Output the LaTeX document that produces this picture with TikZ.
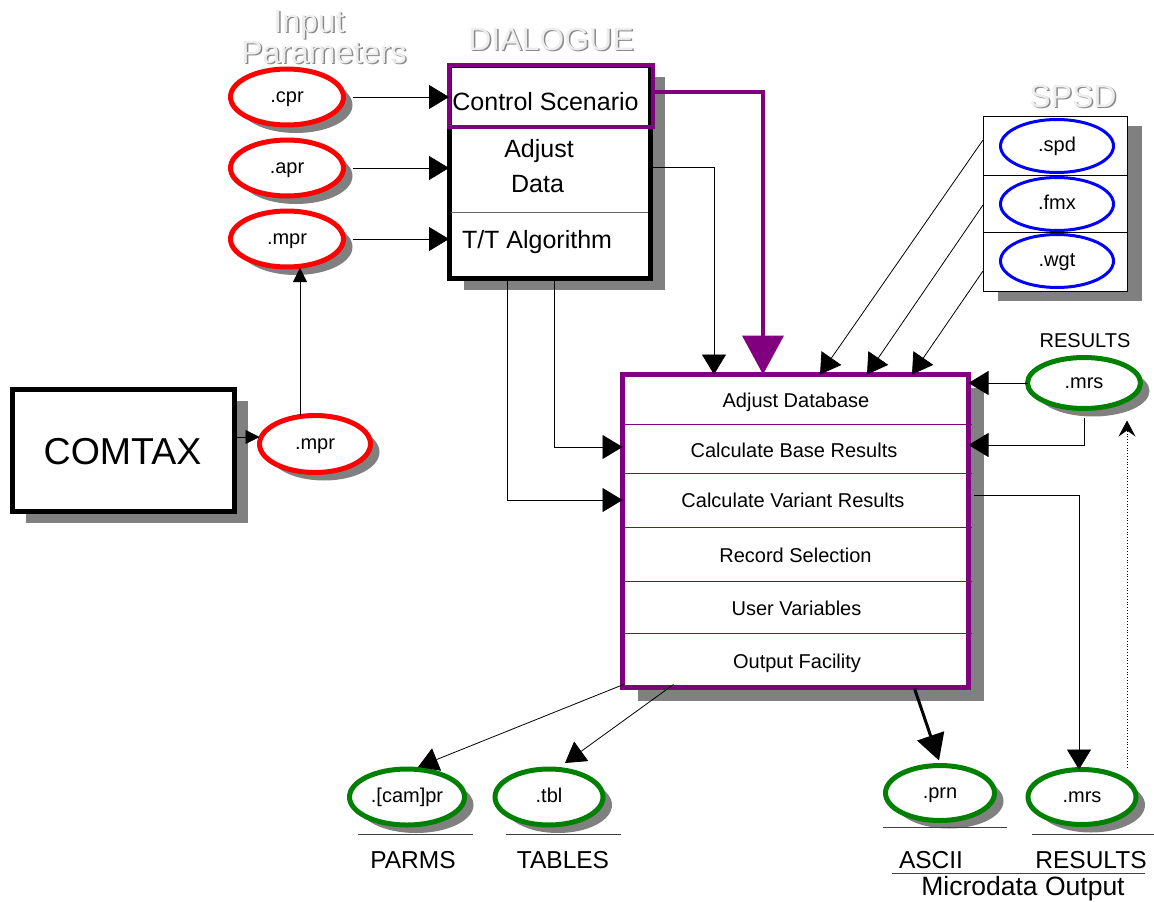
\documentclass[tikz,border=0pt]{standalone}
\usepackage{fontspec}
\setmainfont{Liberation Sans}
\usetikzlibrary{arrows.meta,shadows,shapes.geometric,calc}
\definecolor{pur}{HTML}{800080}
\definecolor{grn}{HTML}{008000}
\definecolor{shd}{HTML}{808080}
\definecolor{redc}{HTML}{FF0000}
\definecolor{blu}{HTML}{0000FF}
\definecolor{ttlfill}{HTML}{EDEDED}
\definecolor{ttlshade}{HTML}{8A8A8A}
\begin{document}
\begin{tikzpicture}[x=1pt,y=-1pt,
  every node/.style={inner sep=0pt,outer sep=0pt},
  fa/.style={font=\fontsize{20}{24}\selectfont},
  fb/.style={font=\fontsize{25}{33}\selectfont},
  fc/.style={font=\fontsize{24.5}{28}\selectfont},
  ftl/.style={font=\fontsize{32}{36}\selectfont},
  ttlsh/.style={ftl,text=ttlshade,anchor=base},
  ttlfg/.style={ftl,text=ttlfill,anchor=base},
  oval/.style={ellipse,fill=white,fa,text height=10.4pt,text depth=0pt},
  shov/.style={oval,line width=5pt,drop shadow={shadow xshift=9pt,shadow yshift=-8pt,fill=shd,opacity=1}},
  redov/.style={shov,draw=redc,minimum width=113pt,minimum height=56pt},
  grnov/.style={shov,draw=grn},
  bluov/.style={oval,draw=blu,line width=3pt,minimum width=113pt,minimum height=53pt},
  arr/.style={draw=black,line width=0.8pt,-{Triangle[length=20pt,width=24pt]}},
  arrs/.style={draw=black,line width=0.8pt,-{Triangle[length=14pt,width=14pt]}},
  parr/.style={draw=pur,line width=4pt,-{Triangle[length=39pt,width=41pt]}},
  thk/.style={draw=black,line width=3pt,-{Triangle[length=26pt,width=28pt]}},
  dotarr/.style={draw=black,line width=0.8pt,dotted,-{Stealth[length=16pt,width=17pt,inset=6pt]}},
  rule/.style={draw=black!80,line width=0.8pt},
  prule/.style={draw=pur,line width=0.8pt},
  lbl/.style={fc,anchor=base}
]
\fill[white] (0,0) rectangle (1154,902);
\useasboundingbox (0,0) rectangle (1154,902);

% ---- titles ----
\node[ttlsh] (inS) at (310.5,33.5) {Input};
\node[ttlfg] (in) at (309,32) {Input};
\node[ttlsh] (parS) at (325.5,64.5) {Parameters};
\node[ttlfg] (par) at (324,63) {Parameters};
\node[ttlsh] (dlS) at (552.5,51.5) {DIALOGUE};
\node[ttlfg] (dl) at (551,50) {DIALOGUE};
\node[ttlsh] (spS) at (1074.5,108.5) {SPSD};
\node[ttlfg] (sp) at (1073,107) {SPSD};

% ---- input ellipses ----
\node[redov] (cpr) at (287,97) {.cpr};
\node[redov] (apr) at (287,168) {.apr};
\node[redov] (mpr) at (287,239) {.mpr};
\node[redov,minimum width=111pt,minimum height=57pt] (mpr2) at (315,444) {.mpr};

% ---- DIALOGUE box ----
\node[draw=black,fill=white,line width=5pt,minimum width=201pt,minimum height=213pt,
  drop shadow={shadow xshift=15pt,shadow yshift=-12pt,fill=shd,opacity=1}] (dlg) at (549.5,171.5) {};
\draw[rule,draw=black!60] (451,212) -- (648,212);
\node[draw=pur,line width=4pt,minimum width=204pt,minimum height=62pt] (cs) at (551,96) {};
\node[fb,anchor=base] (cst) at (545.5,110) {Control Scenario};
\node[fb,anchor=base] (adj1) at (539,157) {Adjust};
\node[fb,anchor=base] (adj2) at (537.5,192) {Data};
\node[fb,anchor=base west] (tt) at (462,248) {T/T Algorithm};

% ---- COMTAX ----
\node[draw=black,fill=white,line width=5pt,minimum width=222pt,minimum height=122pt,
  drop shadow={shadow xshift=13pt,shadow yshift=-11pt,fill=shd,opacity=1}] (cmt) at (123.5,450.5) {};
\node[font=\fontsize{37.5}{40}\selectfont,anchor=base] (cmtt) at (122.5,464) {COMTAX};

% ---- SPSD box ----
\node[draw=black,fill=white,line width=1pt,minimum width=144pt,minimum height=175pt,
  drop shadow={shadow xshift=15pt,shadow yshift=-10pt,fill=shd,opacity=1}] (spsd) at (1055,203.5) {};
\draw[rule,draw=black] (983,175) -- (1127,175);
\draw[rule,draw=black] (983,232) -- (1127,232);
\node[bluov] (spd) at (1057,146) {.spd};
\node[bluov] (fmx) at (1057,204) {.fmx};
\node[bluov] (wgt) at (1057,261) {.wgt};

% ---- main box ----
\node[draw=pur,fill=white,line width=5pt,minimum width=346pt,minimum height=313pt,
  drop shadow={shadow xshift=15pt,shadow yshift=-13pt,fill=shd,opacity=1}] (mb) at (795.5,531) {};
\draw[prule] (625,424) -- (972,424);
\draw[prule] (625,473) -- (972,473);
\draw[prule] (625,527) -- (972,527);
\draw[prule] (625,581) -- (972,581);
\draw[prule] (625,633) -- (972,633);
\node[fa,anchor=base] (m1) at (796,407) {Adjust Database};
\node[fa,anchor=base] (m2) at (794,457) {Calculate Base Results};
\node[fa,anchor=base] (m3) at (793,507) {Calculate Variant Results};
\node[fa,anchor=base] (m4) at (795.5,562) {Record Selection};
\node[fa,anchor=base] (m5) at (796.5,615) {User Variables};
\node[fa,anchor=base] (m6) at (797,668) {Output Facility};

% ---- results ellipses ----
\node[fa,anchor=base] (rest) at (1085,347) {RESULTS};
\node[grnov,minimum width=113pt,minimum height=51pt] (res1) at (1084,383) {.mrs};
\node[grnov,minimum width=115pt,minimum height=56pt] (parms) at (407,797) {.[cam]pr};
\node[grnov,minimum width=108pt,minimum height=56pt] (tbl) at (549,797) {.tbl};
\node[grnov,minimum width=109pt,minimum height=55pt] (prn) at (940,793) {.prn};
\node[grnov,minimum width=108pt,minimum height=55pt] (res2) at (1082,797) {.mrs};

% underlines and labels
\draw[rule,draw=black!75] (358,834) -- (473,834);
\draw[rule,draw=black!75] (506,834) -- (621,834);
\draw[rule,draw=black!75] (883,827) -- (1007,827);
\draw[rule,draw=black!75] (1032,834) -- (1154,834);
\draw[rule,draw=black!75] (892,873) -- (1145,873);
\node[lbl] (lparms) at (413,868) {PARMS};
\node[lbl] (ltbl) at (563,868) {TABLES};
\node[lbl] (lascii) at (931,868) {ASCII};
\node[lbl] (lres) at (1091,868) {RESULTS};
\node[font=\fontsize{26.5}{30}\selectfont,anchor=base] (lmicro) at (1023,895) {Microdata Output};

% ---- connectors ----
\draw[arr] ([xshift=9pt]cpr.east) -- (cpr.east -| dlg.west);
\draw[arr] ([xshift=9pt]apr.east) -- (apr.east -| dlg.west);
\draw[arr] ([xshift=9pt]mpr.east) -- (mpr.east -| dlg.west);
\draw[arrs] ([xshift=-15pt]mpr2.north) -- ([xshift=13pt,yshift=-1pt]mpr.south);
\draw[arrs] ([yshift=13.5pt]cmt.east) -- ([yshift=7pt]mpr2.west);

\coordinate (pc) at (763,92);
\draw[parr] ([yshift=4pt]cs.east) -- (pc) -- (pc |- mb.north);

\coordinate (c2) at (714,167);
\draw[arr] (dlg.east |- c2) -- (c2) -- (c2 |- mb.north);
\coordinate (c3) at (554,447);
\draw[arr] (c3 |- dlg.south) -- (c3) -- (c3 -| mb.west);
\coordinate (c3b) at (507,500);
\draw[arr] (c3b |- dlg.south) -- (c3b) -- (c3b -| mb.west);

\draw[arr] ([yshift=-24pt]spsd.north west) -- ([xshift=197.5pt]mb.north west);
\draw[arr] ([yshift=-89pt]spsd.north west) -- ([xshift=244.5pt]mb.north west);
\draw[arr] ([yshift=-155pt]spsd.north west) -- ([xshift=289.5pt]mb.north west);

\draw[arr] (res1.west) -- (res1.west -| mb.east);
\coordinate (c4) at (1084,445);
\draw[arr] ([yshift=-9pt]res1.south) -- (c4) -- (c4 -| mb.east);
\coordinate (c5) at (1079,495);
\draw[arr] ([xshift=5pt]c5 -| mb.east) -- (c5) -- (c5 |- res2.north);
\draw[dotarr] ([xshift=45pt,yshift=2pt]res2.north) -- ([xshift=43pt,yshift=-12pt]res1.south);

\draw[arr] ([xshift=1pt,yshift=3pt]mb.south west) -- ([xshift=11pt,yshift=2pt]parms.north);
\draw[arr] ([xshift=51pt,yshift=3pt]mb.south west) -- ([xshift=16pt,yshift=6pt]tbl.north);
\draw[thk] ([xshift=292pt,yshift=-1pt]mb.south west) -- ([xshift=-1pt,yshift=5pt]prn.north);
\end{tikzpicture}
\end{document}
